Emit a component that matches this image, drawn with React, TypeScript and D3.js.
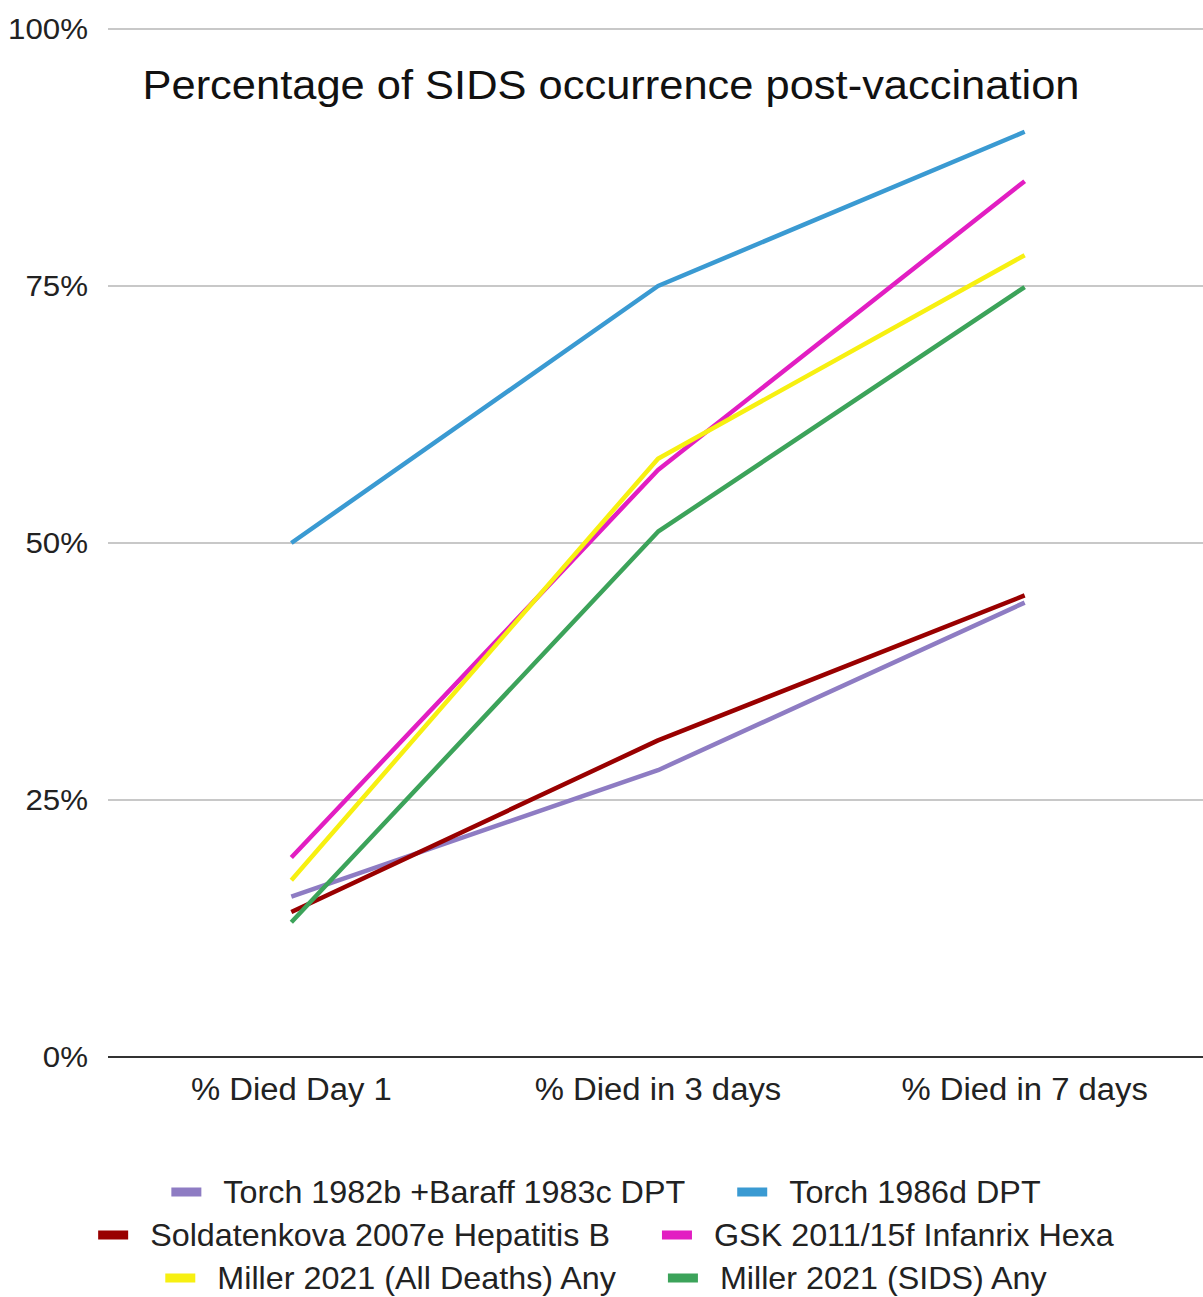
import { useEffect, useRef } from 'react';
import * as d3 from 'd3';

const categories = ['% Died Day 1', '% Died in 3 days', '% Died in 7 days'];

const seriesNames = [
  'Torch 1982b +Baraff 1983c DPT',
  'Torch 1986d DPT',
  'Soldatenkova 2007e Hepatitis B',
  'GSK 2011/15f Infanrix Hexa',
  'Miller 2021 (All Deaths) Any',
  'Miller 2021 (SIDS) Any',
];

const torch1982 = [15.6, 27.9, 44.2];
const torch1986 = [50, 75, 90];
const soldatenkova = [14.1, 30.8, 44.9];
const gsk = [19.4, 57.1, 85.2];
const millerAll = [17.2, 58.2, 78.0];
const millerSids = [13.1, 51.1, 74.9];

const seriesValues = [torch1982, torch1986, soldatenkova, gsk, millerAll, millerSids];
const seriesColors = ['#8e7cc3', '#3a9ad2', '#990000', '#e21ec2', '#f7f011', '#3ca35a'];

const yTicks = [0, 25, 50, 75, 100];

const W = 1203;
const H = 1297;
const FONT = '"Liberation Sans", Arial, sans-serif';
const SX = 1.06; // reference text looks slightly stretched horizontally

export default function App() {
  const ref = useRef<SVGSVGElement>(null);

  useEffect(() => {
    document.body.style.margin = '0';
    if (!ref.current) return;
    const svg = d3.select(ref.current);
    svg.selectAll('*').remove();

    const margin = { top: 29, right: 0, bottom: 240, left: 108 };
    const innerW = W - margin.left - margin.right;
    const innerH = H - margin.top - margin.bottom;
    const plotW = 1100; // category step ~366px

    const g = svg.append('g').attr('transform', `translate(${margin.left},${margin.top})`);

    const x = d3.scalePoint<string>().domain(categories).range([0, plotW]).padding(0.5);
    const y = d3.scaleLinear().domain([0, 100]).range([innerH, 0]);

    // gridlines
    g.selectAll('line.grid')
      .data(yTicks)
      .enter()
      .append('line')
      .attr('x1', 0)
      .attr('x2', innerW)
      .attr('y1', (d) => y(d))
      .attr('y2', (d) => y(d))
      .attr('stroke', (d) => (d === 0 ? '#333' : '#c8c8c8'))
      .attr('stroke-width', 2);

    g.selectAll('text.ytick')
      .data(yTicks)
      .enter()
      .append('text')
      .attr('transform', (d) => `translate(-20,${y(d) + 10}) scale(${SX},1)`)
      .attr('text-anchor', 'end')
      .style('font-family', FONT)
      .style('font-size', '29.5px')
      .style('fill', '#222')
      .text((d) => `${d}%`);

    g.selectAll('text.xtick')
      .data(categories)
      .enter()
      .append('text')
      .attr('transform', (d) => `translate(${x(d) ?? 0},${innerH + 43}) scale(${SX},1)`)
      .attr('text-anchor', 'middle')
      .style('font-family', FONT)
      .style('font-size', '31px')
      .style('fill', '#222')
      .text((d) => d);

    // title
    svg
      .append('text')
      .attr('transform', `translate(611,99) scale(${SX},1)`)
      .attr('text-anchor', 'middle')
      .style('font-family', FONT)
      .style('font-size', '41px')
      .style('fill', '#111')
      .text('Percentage of SIDS occurrence post-vaccination');

    const line = d3
      .line<number>()
      .x((_, i) => x(categories[i]) ?? 0)
      .y((d) => y(d));

    seriesValues.forEach((vals, i) => {
      g.append('path')
        .datum(vals)
        .attr('fill', 'none')
        .attr('stroke', seriesColors[i])
        .attr('stroke-width', 4.5)
        .attr('stroke-linejoin', 'round')
        .attr('d', line);
    });

    // legend: 3 rows, 2 items per row, each row centered
    const rows = [
      [0, 1],
      [2, 3],
      [4, 5],
    ];
    const rowY = [1192, 1235, 1278];
    const swW = 30;
    const swH = 9;
    const swGap = 22;
    const itemGap = 52;
    const centerX = 606;

    rows.forEach((row, r) => {
      const lg = svg.append('g');
      let cx = 0;
      row.forEach((si, k) => {
        if (k > 0) cx += itemGap;
        lg.append('rect')
          .attr('x', cx)
          .attr('y', rowY[r] - swH / 2)
          .attr('width', swW)
          .attr('height', swH)
          .attr('fill', seriesColors[si]);
        cx += swW + swGap;
        const t = lg
          .append('text')
          .attr('transform', `translate(${cx},${rowY[r] + 11}) scale(${SX},1)`)
          .style('font-family', FONT)
          .style('font-size', '30.5px')
          .style('fill', '#222')
          .text(seriesNames[si]);
        cx += (t.node() as SVGTextElement).getComputedTextLength() * SX;
      });
      lg.attr('transform', `translate(${centerX - cx / 2},0)`);
    });
  }, []);

  return <svg ref={ref} width={W} height={H} style={{ display: 'block', background: '#fff' }} />;
}
